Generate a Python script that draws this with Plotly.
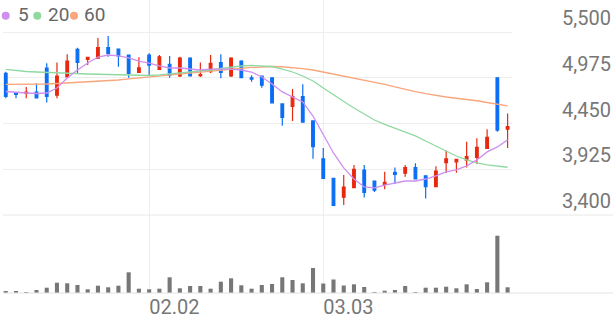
import plotly.graph_objects as go

# ---- data ----
idx = list(range(50))
open_ = [5025, 4805, 4795, 4810, 5085, 4775, 4985, 5300, 5185, 5200,
         5320, 5305, 5235, 5035, 5235, 5070, 5130, 4995, 5200, 5000,
         5045, 5150, 4995, 5165, 4975, 4995, 4975, 4675, 4645, 4760,
         4480, 4045, 3820, 3605, 3715, 3915, 3790, 3750, 3890, 3880,
         3945, 3850, 3725, 4000, 4010, 4030, 4060, 4165, 4975, 4385]
high = [5045, 4810, 4870, 4910, 5140, 5150, 5245, 5320, 5210, 5430,
        5455, 5310, 5240, 5210, 5255, 5235, 5225, 5215, 5210, 5150,
        5235, 5245, 5210, 5175, 5005, 4995, 4980, 4680, 4845, 4900,
        4480, 4170, 3825, 3860, 3975, 3975, 3795, 3895, 3945, 3975,
        3995, 3855, 3960, 4140, 4045, 4240, 4280, 4385, 4980, 4565]
low = [4740, 4740, 4740, 4745, 4690, 4740, 4985, 5025, 5120, 5195,
       5215, 5100, 4975, 5030, 5005, 5070, 4975, 4985, 4990, 4985,
       5030, 4970, 4985, 4970, 4930, 4860, 4680, 4425, 4480, 4460,
       4045, 3820, 3505, 3515, 3710, 3600, 3665, 3695, 3755, 3840,
       3810, 3590, 3720, 3885, 3885, 3945, 3985, 4160, 4355, 4170]
close = [4760, 4785, 4810, 4745, 4760, 4995, 5165, 5150, 5210, 5320,
         5255, 5225, 5025, 5090, 5120, 5215, 5005, 5200, 4995, 5010,
         5140, 5035, 5200, 4975, 4960, 4890, 4685, 4520, 4760, 4465,
         4185, 3820, 3510, 3720, 3925, 3660, 3685, 3775, 3865, 3945,
         3815, 3725, 3905, 4045, 4040, 4070, 4175, 4290, 4375, 4415]
ma5 = [4817, 4806, 4800, 4794, 4800, 4857, 4972, 5064, 5144, 5213,
       5236, 5225, 5202, 5167, 5144, 5110, 5087, 5087, 5075, 5064,
       5075, 5075, 5075, 5064, 5041, 4984, 4904, 4812, 4754, 4697,
       4536, 4318, 4112, 3940, 3814, 3722, 3711, 3744, 3767, 3790,
       3790, 3813, 3848, 3894, 3917, 3963, 4032, 4124, 4181, 4262]
ma20 = [5072, 5058, 5047, 5041, 5035, 5030, 5026, 5021, 5018, 5015,
        5012, 5009, 5007, 5003, 5001, 5007, 5018, 5026, 5035, 5049,
        5064, 5081, 5098, 5110, 5116, 5113, 5104, 5075, 5041, 4995,
        4938, 4857, 4777, 4703, 4628, 4559, 4490, 4439, 4393, 4347,
        4307, 4249, 4192, 4135, 4077, 4032, 3997, 3974, 3963, 3948]
ma60 = [4898, 4898, 4900, 4901, 4903, 4909, 4915, 4920, 4926, 4934,
        4942, 4949, 4961, 4972, 4984, 4993, 5001, 5016, 5030, 5041,
        5053, 5064, 5075, 5085, 5093, 5098, 5104, 5101, 5093, 5079,
        5064, 5041, 5018, 4989, 4966, 4943, 4920, 4898, 4869, 4840,
        4817, 4794, 4771, 4754, 4740, 4728, 4711, 4691, 4671, 4652]
volume = [20, 20, 5, 30, 53, 103, 97, 80, 37, 73,
          57, 73, 207, 43, 37, 43, 157, 47, 70, 70,
          43, 113, 147, 77, 43, 80, 90, 157, 130, 97,
          250, 95, 135, 75, 87, 60, 7, 23, 30, 70,
          3, 53, 53, 63, 47, 87, 40, 107, 573, 57]
tick_pos = [14, 31]
tick_text = ["02.02", "03.03"]
price_ticks = [3400, 3925, 4450, 4975, 5500]
legend_labels = ["5", "20", "60"]

RED = "#e8290f"
BLUE = "#0b6ef5"
MA_COLORS = ["#cf8ff0", "#8fd9a0", "#f8a67c"]
GRID = "#eeeeee"
TXT = "#777777"
FONT = "Roboto"

W, H = 616, 321
def px(x):
    return x / W
def py(y):
    return 1 - y / H

fig = go.Figure()
fig.add_trace(go.Candlestick(
    x=idx, open=open_, high=high, low=low, close=close,
    increasing=dict(line=dict(color=RED, width=1.2), fillcolor=RED),
    decreasing=dict(line=dict(color=BLUE, width=1.2), fillcolor=BLUE),
    whiskerwidth=0, showlegend=False, hoverinfo="skip",
    xaxis="x", yaxis="y"))
for vals, col in zip([ma60, ma20, ma5], [MA_COLORS[2], MA_COLORS[1], MA_COLORS[0]]):
    fig.add_trace(go.Scatter(x=idx, y=vals, mode="lines",
                             line=dict(color=col, width=1.3),
                             showlegend=False, hoverinfo="skip",
                             xaxis="x", yaxis="y"))
fig.add_trace(go.Bar(x=idx, y=volume, marker_color="#777777", width=0.4,
                     marker_line_width=0, showlegend=False, hoverinfo="skip",
                     xaxis="x2", yaxis="y2"))

xdom = [px(3), px(512)]
xr = [-0.27, 49.43]
price_top = 5500 + 32 * (525 / 45.75)

fig.update_layout(
    width=W, height=H, margin=dict(l=0, r=0, t=0, b=0, autoexpand=False),
    paper_bgcolor="white", plot_bgcolor="white",
    boxgap=0.63,
    font=dict(family=FONT, color=TXT),
    xaxis=dict(domain=xdom, range=xr, anchor="y", tickvals=tick_pos,
               showticklabels=False, showgrid=True, gridcolor=GRID,
               gridwidth=1, zeroline=False, showline=False, ticks="",
               automargin=False, rangeslider=dict(visible=False)),
    xaxis2=dict(domain=xdom, range=xr, anchor="y2", tickvals=tick_pos,
                ticktext=tick_text, showgrid=True, gridcolor=GRID,
                zeroline=False, showline=False, ticks="", automargin=False,
                ticklabelposition="outside right",
                tickfont=dict(family=FONT, size=20, color=TXT)),
    yaxis=dict(domain=[py(215), 1], range=[3400, price_top], anchor="x",
               side="right", tickvals=price_ticks, tickformat=",d",
               showgrid=True, gridcolor=GRID, zeroline=False, showline=False,
               ticks="", automargin=False, ticklabelstandoff=49,
               ticklabelshift=-14,
               tickfont=dict(family=FONT, size=20, color=TXT)),
    yaxis2=dict(domain=[py(293), py(215)], range=[0, 780], anchor="x2",
                showgrid=False, showticklabels=False, zeroline=False,
                showline=False, automargin=False),
)

# full-width separator and volume baseline
fig.add_shape(type="line", xref="paper", yref="paper", x0=px(3), x1=px(613),
              y0=py(215), y1=py(215), line=dict(color="#e8e8e8", width=1))
fig.add_shape(type="line", xref="paper", yref="paper", x0=px(3), x1=px(613),
              y0=py(293), y1=py(293), line=dict(color="#e2e2e2", width=1))

# legend
dot_x = [5.7, 37.3, 74]
text_x = [15.5, 45.5, 82]
for dx, tx, lab, col in zip(dot_x, text_x, legend_labels, MA_COLORS):
    fig.add_shape(type="circle", xref="paper", yref="paper",
                  x0=px(dx - 4), x1=px(dx + 4), y0=py(15.7 + 4), y1=py(15.7 - 4),
                  fillcolor=col, line=dict(width=0))
    fig.add_annotation(text=lab, xref="paper", yref="paper", x=px(tx), y=py(14.5),
                       xanchor="left", yanchor="middle", showarrow=False,
                       font=dict(family=FONT, size=19, color="#666666"))

fig.write_html("out.html", config={"displayModeBar": False})
